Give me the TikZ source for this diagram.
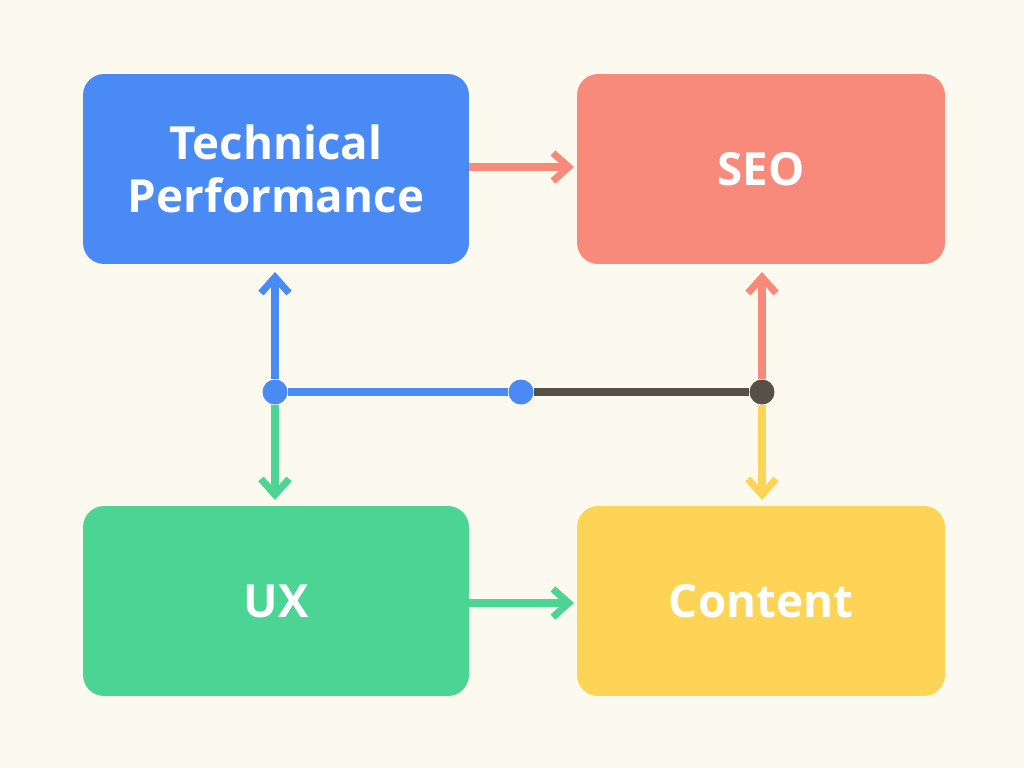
\documentclass[tikz,border=0pt]{standalone}
\usepackage{fontspec}
\setmainfont{Open Sans}
\usetikzlibrary{arrows.meta}
\definecolor{bg}{HTML}{FCF9EE}
\definecolor{tpblue}{HTML}{4A8AF4}
\definecolor{seored}{HTML}{F78A7A}
\definecolor{uxgreen}{HTML}{4CD494}
\definecolor{ctyellow}{HTML}{FDD456}
\definecolor{hubgray}{HTML}{555048}
\begin{document}
\begin{tikzpicture}[x=0.02cm, y=-0.02cm,
  box/.style={rounded corners=12pt, minimum height=3.8cm,
    text=white, font=\fontsize{26}{30}\selectfont\bfseries, align=center, inner sep=0pt},
  link/.style={line width=4pt, -{Straight Barb[length=9pt,width=16pt]}},
  hub/.style={circle, inner sep=0pt, minimum size=0.5cm}]
  \fill[bg] (0,0) rectangle (1024,768);
  \useasboundingbox (0,0) rectangle (1024,768);
  \foreach \x/\y/\w/\z/\c/\t in {276/169/7.72/TP/tpblue/{Technical\\Performance},
      761/169/7.36/SEO/seored/SEO, 276/601/7.72/UX/uxgreen/UX, 761/601/7.36/CT/ctyellow/Content}
  {
    \node[box, fill=\c, minimum width=\w cm] (\z) at (\x,\y) {\t};
  }
  \node[hub, fill=tpblue] (h1) at (275,392) {};
  \node[hub, fill=tpblue] (h2) at (521,392) {};
  \node[hub, fill=hubgray] (h3) at (762,392) {};
  \draw[line width=4pt, tpblue] (h1) -- (h2);
  \draw[line width=4pt, hubgray] (h2) -- (h3);
  \draw[link, tpblue] (h1) -- (275,272);
  \draw[link, uxgreen] (h1) -- (275,500);
  \draw[link, seored] (h3) -- (762,272);
  \draw[link, ctyellow] (h3) -- (762,500);
  \draw[link, seored] (TP.east |- 0,167) -- (574,167);
  \draw[link, uxgreen] (UX.east |- 0,603) -- (574,603);
\end{tikzpicture}
\end{document}
